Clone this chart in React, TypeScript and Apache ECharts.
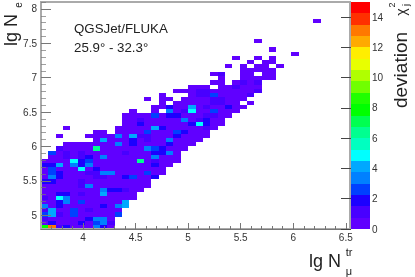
import React, { useEffect, useRef } from "react";
import * as echarts from "echarts";

const xMin = 3.6, xMax = 6.54, yMin = 4.8, yMax = 8.1;
const xBin = 0.07, yBin = 0.06;
const barMax = 15, barStep = 0.75;
const xMajor = [4, 4.5, 5, 5.5, 6, 6.5];
const xMinor = [3.7, 3.8, 3.9, 4.1, 4.2, 4.3, 4.4, 4.6, 4.7, 4.8, 4.9, 5.1, 5.2, 5.3, 5.4, 5.6, 5.7, 5.8, 5.9, 6.1, 6.2, 6.3, 6.4];
const yMajor = [5, 5.5, 6, 6.5, 7, 7.5, 8];
const yMinor = [4.9, 5.1, 5.2, 5.3, 5.4, 5.6, 5.7, 5.8, 5.9, 6.1, 6.2, 6.3, 6.4, 6.6, 6.7, 6.8, 6.9, 7.1, 7.2, 7.3, 7.4, 7.6, 7.7, 7.8, 7.9, 8.1];
const barTicks = [0, 2, 4, 6, 8, 10, 12, 14];

const palette = ["#6000ff", "#4800ff", "#1c00ff", "#0040ff", "#0080ff", "#00a8ff", "#00ffff", "#00ffc0", "#00ff90", "#00ff50", "#00ff00", "#20ff00", "#70ff00", "#b0ff00", "#e8ff00", "#ffee00", "#ffaa00", "#ff7800", "#ff3000", "#ff0000"];

// occupied bins: [row, first column, last column]
const spans = [
  [50,37,37],[45,29,29],[43,31,31],[42,34,34],[41,26,26],[41,29,29],[41,31,31],
  [40,28,28],[40,30,31],[39,25,25],[39,27,27],[39,29,30],[39,32,32],[38,27,31],
  [37,23,24],[37,27,28],[37,30,31],[36,24,24],[36,27,31],[35,23,24],[35,26,29],
  [34,20,22],[34,24,29],[33,18,29],[32,16,16],[32,20,28],[31,14,14],[31,16,17],[31,19,27],
  [30,16,16],[30,18,26],[30,28,28],[29,15,27],[28,12,12],[28,15,15],[28,17,26],
  [27,11,25],[26,11,24],[25,11,24],[24,3,3],[24,10,23],[23,7,8],[23,10,22],
  [22,2,2],[22,6,22],[21,7,21],[20,3,20],[19,2,19],[18,1,18],[17,1,18],[16,0,18],
  [15,0,17],[14,0,16],[13,0,16],[12,0,15],[11,0,14],[10,0,14],[9,0,13],[8,0,12],
  [7,0,12],[6,0,11],[5,0,11],[4,0,10],[3,0,10],[2,0,9],[1,0,9],[0,0,9],
];

// bins above the lowest colour band: [column, row, band]
const raised = [
  [24,37,1],[27,35,1],[29,35,1],[26,34,1],[21,33,1],[22,33,1],[29,33,1],[21,32,1],[22,32,1],[23,32,3],[28,32,1],
  [23,31,1],[24,31,1],[23,30,1],[24,30,1],[25,29,2],[20,29,5],[17,29,2],[22,29,1],
  [17,28,4],[20,28,6],[23,28,3],[19,28,1],[15,27,3],[17,27,2],[18,27,2],[22,27,1],[23,27,1],
  [19,26,4],[13,26,1],[22,26,2],[21,26,1],[21,25,6],[13,25,2],[22,25,2],[20,25,2],
  [15,24,5],[16,24,2],[22,24,1],[14,23,3],[18,23,3],[19,23,2],
  [10,22,4],[12,22,5],[13,22,1],[14,22,1],[18,22,2],[8,21,5],[12,21,2],[17,21,4],[14,21,1],
  [10,20,4],[12,20,2],[17,20,2],[7,19,8],[14,19,4],[15,19,3],[16,19,2],[2,19,1],
  [1,18,3],[17,18,4],[15,18,2],[16,18,2],[11,18,1],[3,18,1],[5,18,1],
  [15,17,4],[8,17,4],[5,17,1],[6,17,2],[3,17,1],[4,16,6],[13,16,8],[6,16,3],[5,16,2],[15,16,1],
  [2,15,5],[4,15,4],[5,15,2],[6,15,4],[1,15,2],[0,15,2],[15,15,2],[1,14,3],[5,14,6],[7,14,2],
  [1,13,3],[2,13,2],[8,13,4],[9,13,4],[14,13,3],[6,13,1],[7,13,1],
  [1,12,4],[2,12,2],[11,12,2],[12,12,3],[15,12,2],[7,12,1],[8,12,1],
  [0,11,2],[1,11,2],[5,11,1],[6,10,4],[5,10,1],[8,9,4],[9,9,2],[10,9,2],[11,9,1],
  [8,8,5],[2,8,2],[3,8,2],[5,8,1],[2,7,6],[3,7,4],[0,7,1],[2,6,2],[3,6,4],[5,6,3],[11,6,5],
  [0,5,4],[2,5,2],[8,5,2],[10,5,4],[11,5,5],[1,4,5],[4,4,3],[6,4,1],[0,4,1],
  [0,3,3],[1,3,5],[4,3,3],[10,3,3],[2,3,1],[6,2,2],[7,2,4],[8,2,4],[0,2,1],
  [1,1,2],[5,1,2],[8,1,4],[9,1,1],[7,1,3],[0,0,10],[1,0,17],[2,0,1],[3,0,2],[7,0,4],[8,0,2],
];

const AXIS = "#777";
const TEXT = "#333";
const FONT = "'Liberation Sans', Arial, sans-serif";

function buildCells() {
  const bands = new Map<string, number>();
  for (const [c, r, b] of raised) bands.set(c + "," + r, b);
  const out: number[][] = [];
  for (const [r, a, z] of spans) {
    for (let c = a; c <= z; c++) {
      out.push([xMin + c * xBin, yMin + r * yBin, bands.get(c + "," + r) ?? 0]);
    }
  }
  return out;
}

export default function App() {
  const ref = useRef<HTMLDivElement>(null);
  useEffect(() => {
    const chart = echarts.init(ref.current!, undefined, { renderer: "svg" });
    const txt = (text: string, x: number, y: number, size: number, extra: any = {}) => ({
      type: "text",
      x, y,
      z: 20,
      rotation: extra.rotation ?? 0,
      style: { text, fontSize: size, fontFamily: FONT, fill: extra.fill ?? "#222", align: extra.align ?? "center", verticalAlign: "middle" },
    });
    const rot = Math.PI / 2;
    chart.setOption({
      animation: false,
      backgroundColor: "#fff",
      grid: [
        { left: 41, top: 2, width: 309, height: 227, show: true, borderColor: "#aaa", borderWidth: 2, z: 5 },
        { left: 351, top: 2, width: 19, height: 227 },
      ],
      xAxis: [
        {
          type: "value", gridIndex: 0, min: xMin, max: xMax,
          axisLine: { show: true, lineStyle: { color: AXIS, width: 1 } },
          splitLine: { show: false },
          axisTick: { show: true, inside: true, length: 6, customValues: xMajor, lineStyle: { color: AXIS } },
          axisLabel: { show: true, customValues: xMajor, fontSize: 10, color: TEXT, fontFamily: FONT, margin: 3 },
          z: 6,
        },
        {
          type: "value", gridIndex: 0, min: xMin, max: xMax,
          axisLine: { show: false }, splitLine: { show: false },
          axisTick: { show: true, inside: true, length: 3, customValues: xMinor, lineStyle: { color: AXIS } },
          axisLabel: { show: false },
          position: "bottom",
          z: 6,
        },
        { type: "value", gridIndex: 1, min: 0, max: 1, show: false },
      ],
      yAxis: [
        {
          type: "value", gridIndex: 0, min: yMin, max: yMax,
          axisLine: { show: true, lineStyle: { color: "#aaa", width: 2 } },
          splitLine: { show: false },
          axisTick: { show: true, inside: true, length: 10, customValues: yMajor, lineStyle: { color: AXIS } },
          axisLabel: { show: true, customValues: yMajor, fontSize: 10, color: TEXT, fontFamily: FONT, margin: 4 },
          z: 6,
        },
        {
          type: "value", gridIndex: 0, min: yMin, max: yMax,
          axisLine: { show: false }, splitLine: { show: false },
          axisTick: { show: true, inside: true, length: 5, customValues: yMinor, lineStyle: { color: AXIS, opacity: 0.7 } },
          axisLabel: { show: false },
          position: "left",
          z: 6,
        },
        {
          type: "value", gridIndex: 1, min: 0, max: barMax, position: "right",
          axisLine: { show: false }, splitLine: { show: false },
          axisTick: { show: true, inside: true, length: 10, customValues: barTicks, lineStyle: { color: "#444" } },
          axisLabel: { show: true, customValues: barTicks, fontSize: 10, color: TEXT, fontFamily: FONT, margin: 2 },
          z: 6,
        },
      ],
      series: [
        {
          type: "custom",
          xAxisIndex: 0, yAxisIndex: 0,
          clip: true,
          data: buildCells(),
          encode: { x: 0, y: 1 },
          renderItem: (_p: any, api: any) => {
            const x = api.value(0), y = api.value(1), b = api.value(2);
            const tl = api.coord([x, y + yBin]);
            const br = api.coord([x + xBin, y]);
            const x0 = Math.round(tl[0]), y0 = Math.round(tl[1]);
            return {
              type: "rect",
              shape: { x: x0, y: y0, width: Math.round(br[0]) - x0, height: Math.round(br[1]) - y0 },
              style: { fill: palette[b] },
            };
          },
        },
        {
          type: "custom",
          xAxisIndex: 2, yAxisIndex: 2,
          clip: true,
          data: palette.map((_c, i) => [i * barStep, i]),
          encode: { y: 0 },
          renderItem: (_p: any, api: any) => {
            const v = api.value(0), i = api.value(1);
            const tl = api.coord([0, v + barStep]);
            const br = api.coord([1, v]);
            const x0 = Math.round(tl[0]), y0 = Math.round(tl[1]);
            return {
              type: "rect",
              shape: { x: x0, y: y0, width: Math.round(br[0]) - x0, height: Math.round(br[1]) - y0 },
              style: { fill: palette[i] },
            };
          },
        },
      ],
      graphic: [
        txt("QGSJet/FLUKA", 74, 28, 13.3, { align: "left" }),
        txt("25.9\u00b0 - 32.3\u00b0", 74, 47, 13.3, { align: "left" }),
        txt("lg N", 11, 30, 18, { rotation: rot }),
        txt("e", 18, 5, 10, { rotation: rot }),
        txt("lg N", 325, 261, 18),
        txt("tr", 349, 252, 11),
        txt("\u03bc", 349, 271, 11),
        txt("deviation", 400, 70, 19, { rotation: rot }),
        txt("\u03c7", 401, 12, 14, { rotation: rot }),
        txt("2", 392, 5, 9, { rotation: rot }),
        txt("j", 406, 5, 9, { rotation: rot }),
      ],
    });
    return () => chart.dispose();
  }, []);
  return (
    <div
      ref={ref}
      style={{ position: "absolute", left: 0, top: 0, width: 415, height: 277, filter: "blur(0.5px)" }}
    />
  );
}
